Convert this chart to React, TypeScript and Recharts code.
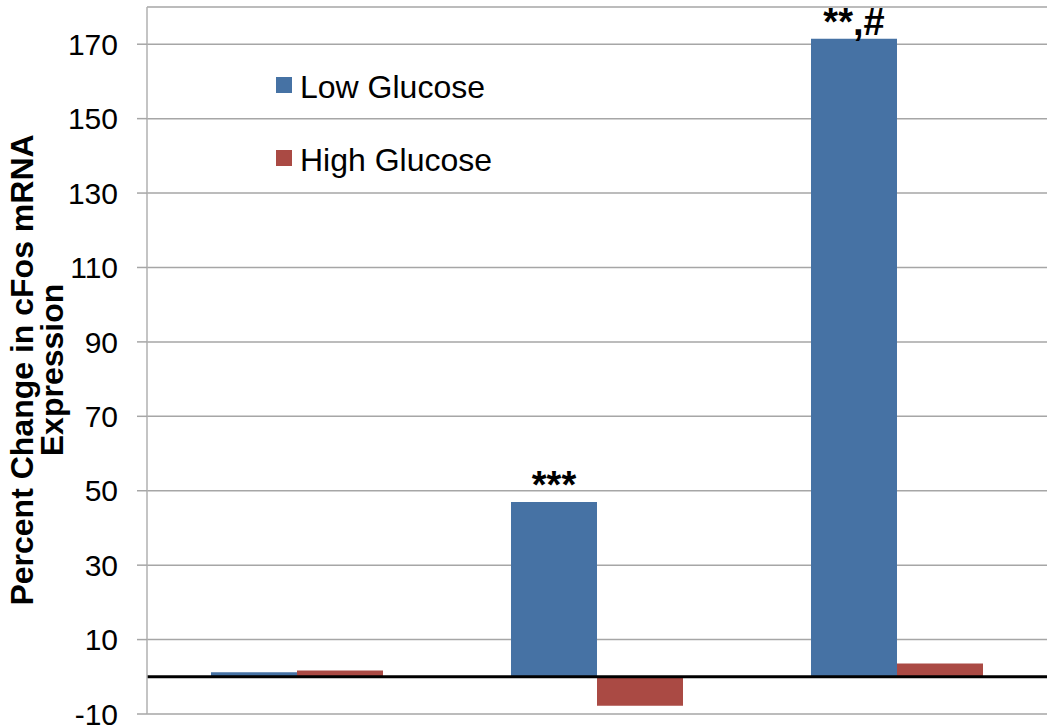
import {
    BarChart,
    Bar,
    XAxis,
    YAxis,
    CartesianGrid,
    LabelList,
    ReferenceLine,
} from "recharts";

const categories = ["Group 1", "Group 2", "Group 3"];
const lowGlucose = [1.2, 47, 171.5];
const highGlucose = [1.7, -7.8, 3.6];
const marks = ["", "***", "**,#"];
const yTicks = [-10, 10, 30, 50, 70, 90, 110, 130, 150, 170];

const data = categories.map((c, i) => ({
    name: c,
    low: lowGlucose[i],
    high: highGlucose[i],
    mark: marks[i],
}));

const FONT = "'Liberation Sans', Arial, sans-serif";
const BLUE = "#4672A4";
const RED = "#AA4A44";

function AxisTitle() {
    return (
        <g fontFamily={FONT} fontWeight="bold" fontSize={32} fill="#000">
            <text x={33} y={370} textAnchor="middle" transform="rotate(-90, 33, 370)">
                Percent Change in cFos mRNA
            </text>
            <text x={63} y={370} textAnchor="middle" transform="rotate(-90, 63, 370)">
                Expression
            </text>
        </g>
    );
}

function MarkLabel(props: any) {
    const { x, y, width, value } = props;
    if (!value) return null;
    return (
        <text
            x={x + width / 2}
            y={y - 4}
            textAnchor="middle"
            fontFamily={FONT}
            fontWeight="bold"
            fontSize={38}
            fill="#000"
        >
            {value}
        </text>
    );
}

function LegendBox() {
    const items = [
        { label: "Low Glucose", color: BLUE },
        { label: "High Glucose", color: RED },
    ];
    return (
        <div
            style={{
                position: "absolute",
                left: 276,
                top: 51,
                fontFamily: FONT,
                fontSize: 32,
                color: "#000",
            }}
        >
            {items.map((it) => (
                <div
                    key={it.label}
                    style={{ display: "flex", alignItems: "center", height: 73 }}
                >
                    <span
                        style={{
                            display: "inline-block",
                            width: 16,
                            height: 16,
                            background: it.color,
                            marginRight: 8,
                            marginTop: -6,
                        }}
                    />
                    <span>{it.label}</span>
                </div>
            ))}
        </div>
    );
}

function App() {
    return (
        <div style={{ position: "relative", width: 1050, height: 728, background: "#fff" }}>
            <style>{"body{margin:0}"}</style>
            <BarChart
                width={1050}
                height={728}
                data={data}
                barGap={0}
                margin={{ top: 7, right: 3, bottom: 14, left: 0 }}
            >
                <CartesianGrid vertical={false} stroke="#a6a6a6" strokeWidth={1.5} />
                <XAxis dataKey="name" hide />
                <YAxis
                    width={147}
                    domain={[-10, 180]}
                    ticks={yTicks}
                    interval={0}
                    allowDataOverflow
                    tickSize={10}
                    tickMargin={19}
                    tick={{ fontSize: 30, fontFamily: FONT, fill: "#000" }}
                    tickLine={{ stroke: "#a6a6a6", strokeWidth: 1.5 }}
                    axisLine={{ stroke: "#b0b0b0", strokeWidth: 1.5 }}
                    label={{ content: () => <AxisTitle /> }}
                />
                <Bar dataKey="low" name="Low Glucose" fill={BLUE} barSize={86} isAnimationActive={false}>
                    <LabelList dataKey="mark" content={<MarkLabel />} />
                </Bar>
                <Bar dataKey="high" name="High Glucose" fill={RED} barSize={86} isAnimationActive={false} />
                <ReferenceLine y={0} stroke="#000" strokeWidth={3} />
            </BarChart>
            <LegendBox />
        </div>
    );
}

export default App;
